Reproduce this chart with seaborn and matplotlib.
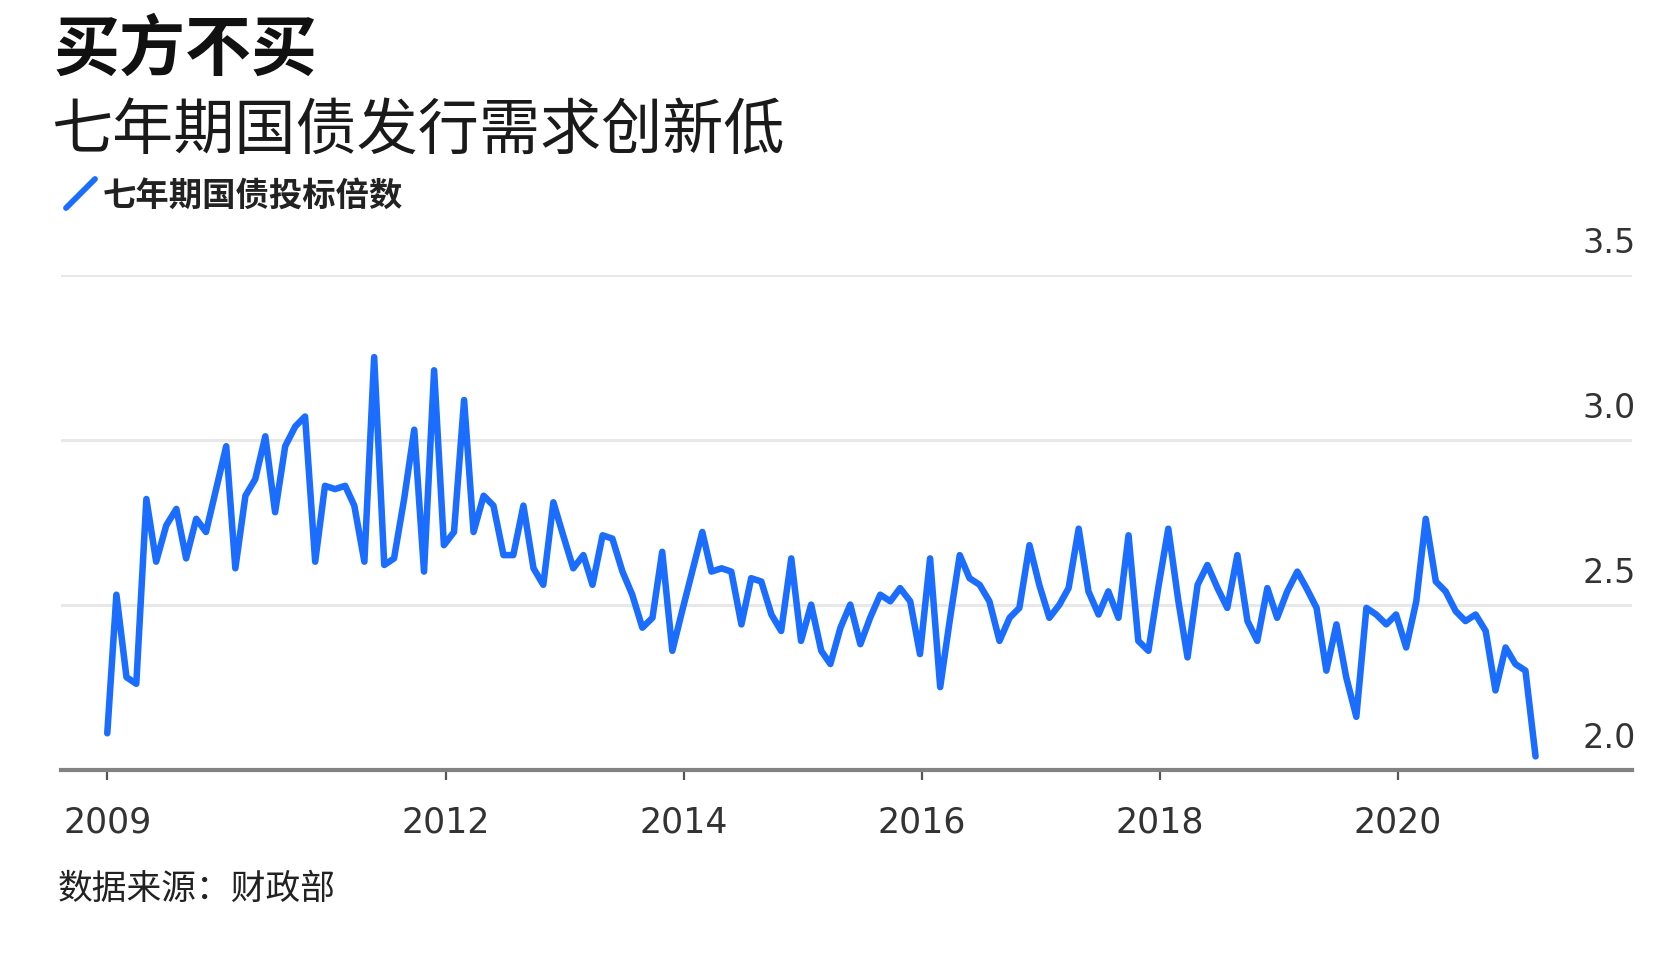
import numpy as np
import pandas as pd
import matplotlib
matplotlib.use("Agg")
import matplotlib.pyplot as plt
import matplotlib.transforms as mtrans
from matplotlib.lines import Line2D
import seaborn as sns

# ---------------- data ----------------
title = "买方不买"
subtitle = "七年期国债发行需求创新低"
series_name = "七年期国债投标倍数"
source = "数据来源：财政部"

first_auction = "2009-02-26"   # monthly 7-year note auctions, Feb 2009 .. Feb 2021
bid_to_cover = [
    2.11, 2.53, 2.28, 2.26, 2.82, 2.63, 2.74, 2.79, 2.64, 2.76, 2.72,
    2.85, 2.98, 2.61, 2.83, 2.88, 3.01, 2.78, 2.98, 3.04, 3.07, 2.63, 2.86,
    2.85, 2.86, 2.80, 2.63, 3.25, 2.62, 2.64, 2.82, 3.03, 2.60, 3.21, 2.68,
    2.72, 3.12, 2.72, 2.83, 2.80, 2.65, 2.65, 2.80, 2.61, 2.56, 2.81, 2.71,
    2.61, 2.65, 2.56, 2.71, 2.70, 2.60, 2.53, 2.43, 2.46, 2.66, 2.36, 2.48,
    2.60, 2.72, 2.60, 2.61, 2.60, 2.44, 2.58, 2.57, 2.47, 2.42, 2.64, 2.39,
    2.50, 2.36, 2.32, 2.43, 2.50, 2.38, 2.46, 2.53, 2.51, 2.55, 2.51, 2.35,
    2.64, 2.25, 2.45, 2.65, 2.58, 2.56, 2.51, 2.39, 2.46, 2.49, 2.68, 2.56,
    2.46, 2.50, 2.55, 2.73, 2.54, 2.47, 2.54, 2.46, 2.71, 2.39, 2.36, 2.55,
    2.73, 2.51, 2.34, 2.56, 2.62, 2.55, 2.49, 2.65, 2.45, 2.39, 2.55, 2.46,
    2.54, 2.60, 2.55, 2.49, 2.30, 2.44, 2.28, 2.16, 2.49, 2.47, 2.44, 2.47,
    2.37, 2.51, 2.76, 2.57, 2.54, 2.48, 2.45, 2.47, 2.42, 2.24, 2.37, 2.32,
    2.30, 2.04,
]
auction_dates = pd.date_range("2009-02-01", periods=len(bid_to_cover), freq="MS") + pd.Timedelta(days=25)

y_ticks = [2.0, 2.5, 3.0, 3.5]
y_tick_labels = ["2.0", "2.5", "3.0", "3.5"]
x_tick_labels = ["2009", "2012", "2014", "2016", "2018", "2020"]
x_tick_dates = [auction_dates[0]] + [pd.Timestamp(f"{y}-01-01") for y in (2012, 2014, 2016, 2018, 2020)]

df = pd.DataFrame({"date": auction_dates, "value": bid_to_cover})

# ---------------- style ----------------
sns.set_style("white")
plt.rcParams["font.family"] = ["Noto Sans CJK SC", "DejaVu Sans"]

LINE_BLUE = "#1a6dff"
W, H = 1662, 978
fig = plt.figure(figsize=(W / 100, H / 100), dpi=100)
fig.patch.set_facecolor("white")

ax = fig.add_axes([61 / W, 1 - 770.6 / H, (1632 - 61) / W, (770.6 - 275.6) / H])
sns.lineplot(data=df, x="date", y="value", ax=ax, color=LINE_BLUE, linewidth=4.7)
for ln in ax.get_lines():
    ln.set_solid_joinstyle("round")
    ln.set_solid_capstyle("round")
    ln.set_zorder(5)

ax.set_ylim(2.0, 3.5)
ax.set_xlim(pd.Timestamp("2008-10-07"), pd.Timestamp("2021-12-19"))
ax.set_xlabel("")
ax.set_ylabel("")

# grid
ax.set_yticks(y_ticks)
ax.set_yticklabels(y_tick_labels)
ax.yaxis.grid(True, color="#e8e8e8", linewidth=2.2)
ax.xaxis.grid(False)
ax.set_axisbelow(True)

# spines
for s in ("top", "left", "right"):
    ax.spines[s].set_visible(False)
ax.spines["bottom"].set_color("#828282")
ax.spines["bottom"].set_linewidth(3.0)
ax.spines["bottom"].set_zorder(3)

# y tick labels: right side, above gridlines
ax.yaxis.tick_right()
ax.tick_params(axis="y", length=0, pad=3, labelsize=24, labelcolor="#333333")
offset = mtrans.ScaledTranslation(0, 0.325, fig.dpi_scale_trans)
for lab in ax.get_yticklabels():
    lab.set_horizontalalignment("right")
    lab.set_verticalalignment("center")
    lab.set_fontfamily("DejaVu Sans")
    lab.set_transform(lab.get_transform() + offset)

# x ticks
ax.set_xticks(x_tick_dates)
ax.set_xticklabels(x_tick_labels)
ax.tick_params(axis="x", direction="out", length=7, width=1.6, color="#555555",
               pad=18, labelsize=25, labelcolor="#333333", bottom=True)
for lab in ax.get_xticklabels():
    lab.set_fontfamily("DejaVu Sans")

# ---------------- texts ----------------
fig.text(54 / W, 1 - 50 / H, title, fontsize=47.5, fontweight="bold", color="#111111",
         va="center", ha="left")
fig.text(52 / W, 1 - 132 / H, subtitle, fontsize=44, fontweight="light", color="#1a1a1a",
         va="center", ha="left")

# legend: a short diagonal blue stroke + bold label
fig.add_artist(Line2D([66 / W, 95 / W], [1 - 209 / H, 1 - 180 / H], transform=fig.transFigure,
                      color=LINE_BLUE, linewidth=4.2, solid_capstyle="round"))
fig.text(103 / W, 1 - 197 / H, series_name, fontsize=24, fontweight="bold", color="#222222",
         va="center", ha="left")

fig.text(58 / W, 1 - 889 / H, source, fontsize=25, color="#222222", va="center", ha="left")

fig.savefig("out.png", dpi=100, facecolor="white")
